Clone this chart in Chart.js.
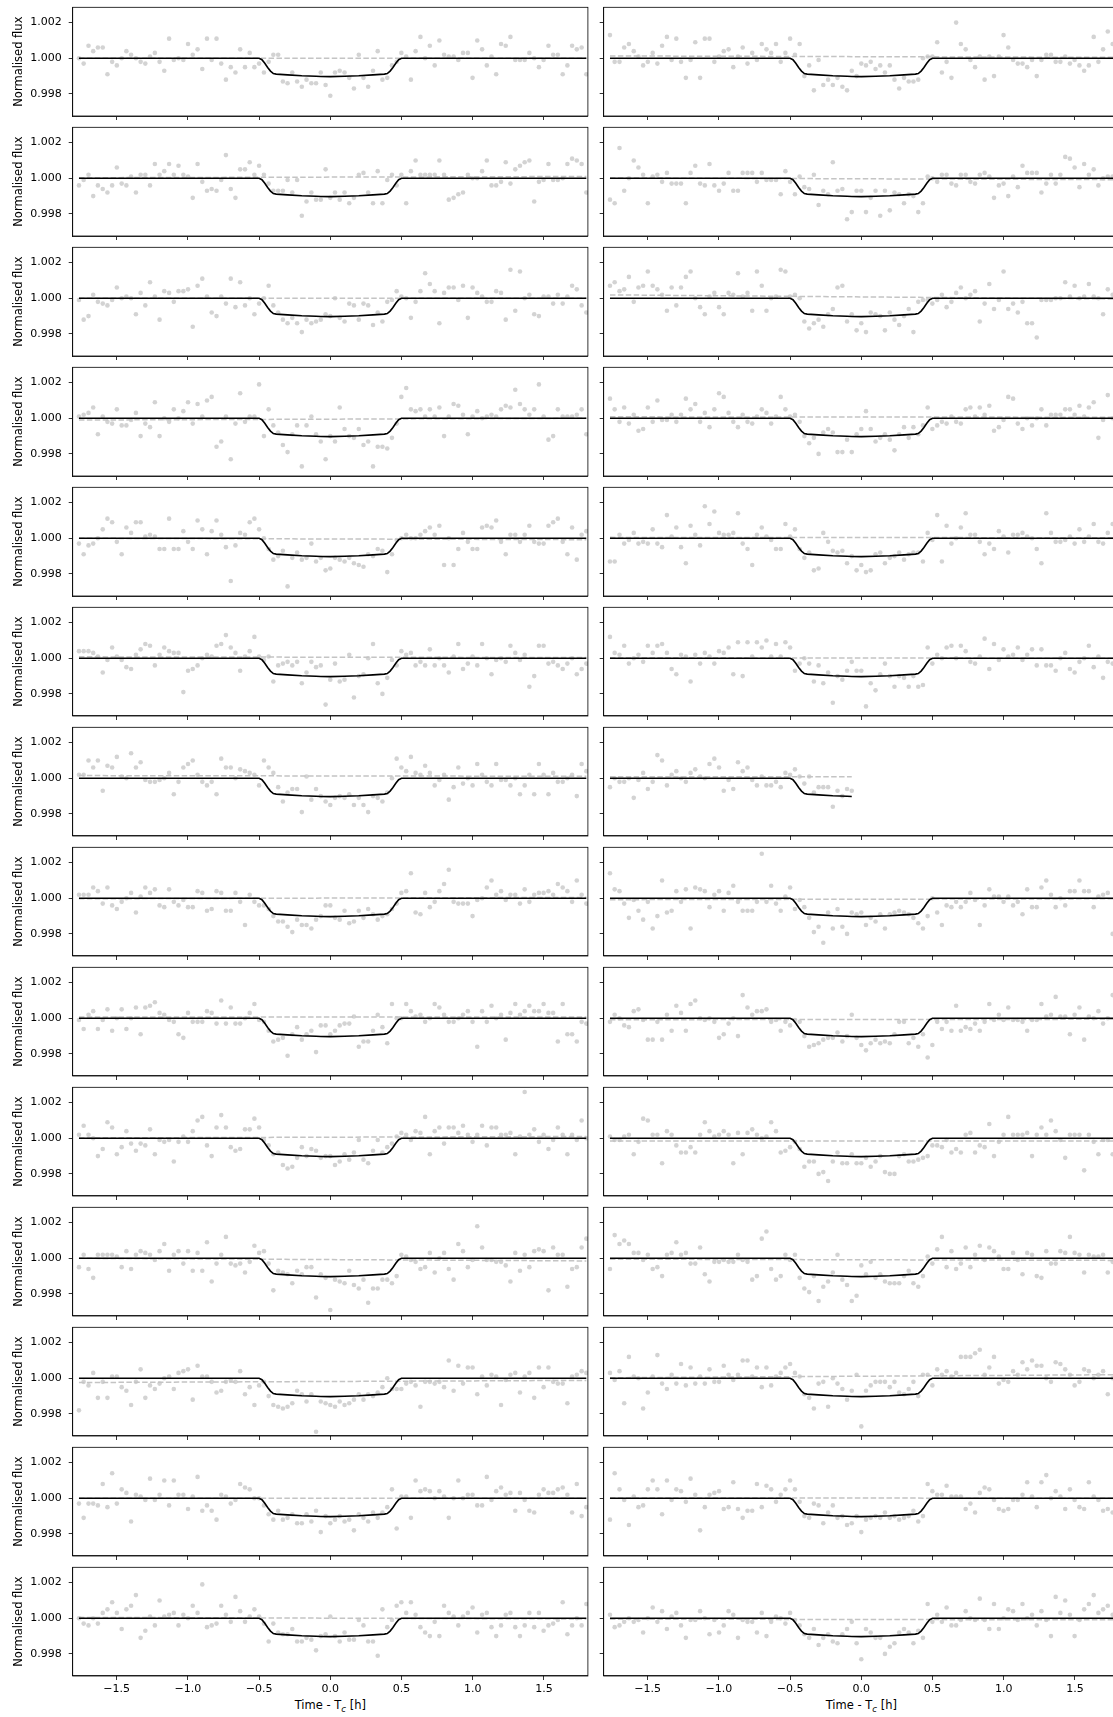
<!DOCTYPE html>
<html>
<head>
<meta charset="utf-8">
<title>Transit light curves</title>
<script src="https://cdn.jsdelivr.net/npm/chart.js@4.4.1/dist/chart.umd.min.js"></script>
<style>
html,body{margin:0;padding:0;background:#fff;overflow:hidden;}
body{position:relative;width:1113px;height:1717px;}
canvas{position:absolute;}
.xlabel{position:absolute;font-family:"DejaVu Sans";font-size:11.5px;line-height:13px;color:#000;white-space:nowrap;transform:translateX(-50%);}
.xlabel sub{font-size:8.5px;vertical-align:-3px;line-height:0;}
</style>
</head>
<body>
<div class="xlabel" id="xl0">Time - T<sub><i>c</i></sub> [h]</div>
<div class="xlabel" id="xl1">Time - T<sub><i>c</i></sub> [h]</div>
<script>
// Time grid (hours from mid-transit), 2-min cadence
const TIMES = [-1.765,-1.732,-1.698,-1.665,-1.632,-1.598,-1.565,-1.532,-1.499,-1.465,
-1.432,-1.399,-1.365,-1.332,-1.299,-1.266,-1.232,-1.199,-1.166,-1.132,
-1.099,-1.066,-1.032,-0.999,-0.966,-0.932,-0.899,-0.866,-0.833,-0.799,
-0.766,-0.733,-0.699,-0.666,-0.633,-0.599,-0.566,-0.533,-0.500,-0.466,
-0.433,-0.400,-0.366,-0.333,-0.300,-0.267,-0.233,-0.200,-0.167,-0.133,
-0.100,-0.067,-0.033,0.000,0.033,0.066,0.100,0.133,0.166,0.200,
0.233,0.266,0.300,0.333,0.366,0.400,0.433,0.466,0.499,0.533,
0.566,0.599,0.633,0.666,0.699,0.733,0.766,0.799,0.832,0.866,
0.899,0.932,0.966,0.999,1.032,1.066,1.099,1.132,1.165,1.199,
1.232,1.265,1.299,1.332,1.365,1.398,1.432,1.465,1.498,1.532,
1.565,1.598,1.632,1.665,1.698,1.731,1.765,1.798];

// Transit model curve (black line)
const MODEL_T = [-1.765,-0.5,-0.48,-0.46,-0.44,-0.42,-0.40,-0.38,-0.3,-0.2,-0.1,-0.067,0,0.1,0.2,0.3,0.38,0.40,0.42,0.44,0.46,0.48,0.5,1.798];
const MODEL_F = [1,1,0.99992,0.99972,0.99948,0.99928,0.99914,0.99911,0.99907,0.99902,0.99899,0.99898,0.99897,0.99899,0.99902,0.99907,0.99911,0.99914,0.99928,0.99948,0.99972,0.99992,1,1];

const X_TICKS = [-1.5,-1.0,-0.5,0.0,0.5,1.0,1.5];
const Y_TICKS = [0.998,1.000,1.002];
const Y_TITLE = 'Normalised flux';

// Flux points per panel, as deviation from 1 in units of 1e-4
const F00L = [0,-3,7,4,6,6,-9,-2,-4,0, 4,2,0,-2,-3,1,3,-2,-7,11, -1,0,-1,8,2,5,-6,11,-1,11, -3,-12,-5,-8,5,-5,3,-5,-3,-8, -2,2,2,-13,-14,-8,-13,-16,-12,-14, -14,-8,-15,-21,-8,-7,-8,-11,-17,2, -11,-16,-7,4,-12,-11,-4,-2,3,1, -12,4,12,0,7,-4,10,2,1,1, -1,3,3,-11,10,5,-4,1,-9,8, 7,12,-1,-1,-1,3,0,-5,-1,7, 2,2,-9,-4,7,5,6,-9];
const F00R = [13,-2,-2,6,8,4,1,-4,-2,3, -3,7,12,-1,11,-2,-11,-1,9,-11, 11,11,-2,1,4,5,-5,1,6,-3, 3,-1,8,5,3,8,-2,3,11,2, 8,-10,-4,-18,-1,-15,-12,-15,-11,-16, -18,-7,-10,-3,-4,-2,-6,-4,-8,-4, -12,-17,-11,-13,-13,-12,0,1,1,9, -8,-2,-11,20,8,5,-1,-5,1,-12, 1,-10,1,13,6,-1,-3,-3,-5,-1, -10,-1,2,2,-2,-2,1,-3,-1,-4, -7,-4,12,-2,5,15,8,3];
const F01L = [-4,-1,2,-10,-4,-6,-8,-4,6,-3, -4,1,-8,2,2,-4,8,2,4,8, 2,7,2,1,-11,8,-2,-7,-6,-7, -1,13,-6,-11,5,5,9,2,7,2, -3,-7,-7,-7,-1,-8,-1,-21,-13,-8, -12,-12,5,-11,-8,-12,-8,-14,-11,2, 3,-8,-14,4,-14,-1,2,-4,2,-14, 4,10,2,2,2,2,10,2,-12,-11, -9,-8,2,0,0,4,10,-4,-4,-2, 9,-3,5,7,9,10,-13,-2,-1,8, -1,-1,0,8,11,10,8,-8];
const F01R = [-12,-14,17,-7,0,10,6,2,-14,1, 2,-2,3,-3,-3,-3,-14,3,7,-3, -4,8,-4,-7,-3,3,-7,-7,3,3, 3,-2,3,-1,-1,-1,-9,4,-2,-9, 1,-5,-6,2,-15,-7,-9,9,-7,-6, -23,-19,-7,-7,-19,-11,-7,-21,-7,-18, -8,-9,-14,-9,-10,-19,-14,1,0,-2, 2,2,-3,-4,2,2,-2,-3,2,3, 1,-11,-4,-3,-10,1,-5,7,3,3, 3,-8,-3,2,-3,2,12,11,6,-5, 8,2,5,-4,0,1,1,2];
const F02L = [-1,-12,-10,2,-2,-3,-4,-1,6,0, 1,0,-9,3,-4,9,1,-12,4,3, -2,4,4,5,-16,7,11,1,-8,-10, 1,-3,11,-5,9,-4,0,-9,-3,0, 7,-4,-8,-12,-14,-11,-14,-19,-12,-14, -13,-12,-9,-10,0,-11,-13,-3,-4,-12, -3,-4,-15,-8,-13,-2,-1,4,1,0, -11,-2,4,14,8,4,-14,3,6,6, -1,7,-11,6,3,1,-2,-2,4,3, -12,16,-7,15,0,2,-9,-10,1,1, -3,2,-3,1,7,5,-4,-8];
const F02R = [7,9,4,5,12,-2,6,7,15,7, 5,2,-7,6,-4,6,12,15,0,-5, -9,1,3,-5,-9,3,2,14,1,3, -7,15,7,-7,0,1,16,15,1,2, 0,-13,-17,-14,-12,-16,-9,-6,6,7, -13,-9,-18,-14,-19,-8,-9,-10,-18,-8, -12,-15,-10,-6,-19,-2,-1,-1,-3,-1, 2,-5,-2,3,6,0,2,4,-13,-3, 8,-6,-1,15,-6,-3,-8,-2,-14,-14, -22,-1,-1,-1,0,0,9,1,7,0, 1,8,1,0,-9,5,2,3];
const F03L = [1,2,3,6,-9,1,-2,-3,5,-4, -4,-1,3,-10,-3,-5,9,-10,0,-2, 5,0,4,9,-3,8,1,10,12,-16, -13,1,-23,-3,14,-2,1,1,19,-10, 5,-4,-8,-15,-19,-9,-4,-27,-4,1, -9,-13,-23,-10,-13,6,-6,-10,-11,-6, -15,-13,-27,-16,-16,-17,-11,-3,12,17, 5,4,5,1,5,1,6,-10,1,8, 7,2,-9,1,4,0,1,2,1,5, 7,6,16,8,5,2,5,19,1,-12, -10,5,1,1,1,2,5,-9];
const F03R = [11,5,-2,6,-3,2,-7,-6,6,-2, 10,-1,-1,2,-2,2,11,5,8,-2, 3,-5,5,14,12,3,-2,-5,2,-2, -3,1,5,3,-3,1,12,5,1,2, -2,-10,-14,-11,-20,-8,-6,-8,-19,-19, -12,-19,-9,-6,4,-6,-13,-11,-9,-12, -18,-9,-5,-11,-5,-9,-4,6,-6,-4, -2,-3,1,-2,-3,5,6,1,6,2, 7,-7,-5,-1,12,11,-3,-6,0,-4, 0,5,-4,2,2,2,5,5,2,7, 1,6,9,-11,-1,13,0,2];
const F04L = [-3,-9,-4,-3,0,5,11,9,-2,-9, 6,3,9,9,1,2,1,-6,-6,11, -6,-6,4,-2,-6,10,5,-9,4,10, 2,-5,-24,-4,3,2,9,11,5,0, -6,-12,-10,-7,-27,-11,-8,-12,-11,-3, -13,-11,-18,-17,-11,-12,-13,-11,-14,-15, -16,-9,-10,-6,-7,-19,-9,-1,0,2, 0,0,2,4,6,2,7,-15,0,-15, -6,3,-2,-6,-6,6,7,6,10,-2, -9,2,2,-2,2,7,-2,-3,-3,7, 9,11,-2,-9,6,-12,2,4];
const F04R = [-13,-13,2,-3,-1,3,-3,-2,-3,5, -3,-5,13,1,6,-5,-14,7,2,-4, 18,8,15,3,2,2,3,14,-3,-6, -15,2,6,1,-1,-6,-6,8,1,5, -6,-11,-8,-18,-17,3,-2,-7,-8,-7, -14,-10,-18,-15,-19,-18,-9,-8,-14,-11, -10,-8,-12,-9,-8,-8,-13,3,-1,13, -13,7,-3,0,6,14,2,2,-2,-9, -3,-6,4,1,-8,2,2,3,1,0, -6,-14,14,3,-2,-2,-1,1,-3,5, -2,1,8,-2,-3,3,8,2];
const F05L = [4,4,4,3,1,-8,-1,6,1,-1, -5,-6,2,5,8,7,-4,2,6,4, 3,3,-19,-7,-6,-4,0,2,1,7, 8,13,6,3,-7,1,4,12,1,-1, 1,-13,-4,-3,-2,-4,-2,-14,-8,-2, -5,-4,-26,-12,-3,-13,-12,2,-22,-10, -9,0,8,-14,-20,-11,-1,-4,4,2, 3,-4,-2,-4,5,-4,0,-4,-8,1, 8,-6,-3,1,-4,8,0,-9,-1,0, -2,7,3,-1,2,-16,-10,7,7,-3, -2,-4,-6,-3,0,-9,-6,-3];
const F05R = [12,3,2,7,-3,0,2,-2,7,3, 7,8,3,-6,-9,2,1,-13,2,-3, 3,1,-3,4,3,6,-9,9,-10,9, 1,9,6,10,1,8,1,9,6,-7, -3,0,-3,-13,-4,-14,-8,-25,-10,-12, -7,-2,-7,-7,-27,-14,-18,-9,-3,-10, -16,-10,-11,-16,-10,-16,-15,6,-3,2, 0,6,7,0,7,4,-2,-3,1,11, -6,8,-1,5,1,2,6,-1,2,5, -4,5,-4,-4,-7,0,3,-6,-8,-2, 0,7,-5,1,-11,-2,-3,0];
const F06L = [2,2,10,6,10,-7,7,6,12,1, 0,14,6,9,-1,-2,-2,-1,0,3, -9,-2,6,8,10,2,-2,-4,-2,-9, 11,6,6,0,5,4,3,2,-4,10, 6,3,-5,-13,-8,-6,-6,-19,1,-12, -6,-10,-13,-15,-11,-10,-11,-9,-15,-11, -15,-19,-10,-11,-13,-8,0,11,6,4, 12,3,2,7,3,-4,-1,2,-12,-5, 6,-3,0,-4,8,2,-2,-4,8,-1, -1,-4,0,-9,-4,2,-9,8,2,-9, 3,-2,-2,0,2,-10,8,4];
const F06R = [-5,0,-2,-2,0,-11,-1,3,-6,-2, 13,10,-4,2,4,0,-2,3,5,1, 0,8,11,6,-7,-1,-6,9,4,6, -1,-4,1,-4,-4,-2,-5,3,2,5, 1,-3,1,-8,-5,-5,-5,-16,-7,-10, -6,-7];
const F07L = [2,2,2,6,4,-3,6,-4,-6,-2, 0,3,-8,1,6,3,5,-4,-5,5, -2,-4,-1,-5,-5,4,3,-7,-6,4, 3,-7,-7,3,-2,-15,2,-2,-4,-4, -6,-10,-13,-13,-16,-19,-12,-15,-15,-17, -12,-10,-4,-4,-11,-12,-7,-14,-13,-7, -11,-6,-9,-12,-10,-9,-6,-3,3,4, 14,-8,-9,3,-5,-2,4,8,16,-2, -3,-3,-3,-10,-1,0,6,10,2,4, -1,2,2,-3,5,-2,2,3,3,4, 2,8,6,4,-2,10,2,-3];
const F07R = [14,5,4,-3,-11,-1,-7,-12,-2,-17, -10,10,-8,-7,4,-2,5,-17,6,5, 4,-5,2,4,-7,3,7,-2,-7,-7, -7,-2,25,-2,7,-3,-7,1,6,-6, -1,-5,-11,-19,-16,-25,-8,-17,-6,-16, -20,-8,-9,-8,-15,-11,-13,-9,-17,-9, -8,-7,-8,-9,-11,-14,-17,-10,0,-8, -15,-4,-5,-2,-5,-2,3,-1,-15,-4, 5,1,1,-2,1,-4,-2,-9,5,-5, -5,6,10,2,-5,0,-4,4,4,10, 4,4,-5,1,2,3,-20,2];
const F08L = [-1,-6,2,4,-6,-1,5,-7,0,5, -6,0,6,-9,6,7,9,3,2,-1, -2,-9,-11,3,-2,-2,-2,4,3,-3, 10,-3,6,-3,-3,0,3,8,-1,-2, -7,-13,-12,-11,-21,-9,-5,-12,-9,-7, -19,-4,-4,-9,-7,-4,-3,-3,1,-16, -13,-13,-7,2,-5,-14,8,0,0,8, 4,1,2,-2,0,8,6,2,-2,-2, 0,2,4,-2,-16,4,-2,7,0,2, -12,3,8,2,4,7,4,4,8,3, 3,-13,8,-9,-9,-13,-2,-3];
const F08R = [-2,2,0,-4,-5,4,5,-1,-12,-12, -2,-12,2,-7,7,3,-7,8,10,0, -1,0,-2,-11,-9,-3,0,-10,13,6, 2,4,4,5,-2,-1,-7,-2,-4,-1, -2,-10,-16,-15,-14,-12,-11,-11,-8,-13, -10,2,-11,-15,-18,-14,-12,-14,-13,-14, -9,-2,-2,-14,-11,-16,-9,-22,-15,-2, -6,-2,-7,7,-7,-5,-6,-3,-7,-2, 8,-1,2,-1,6,-1,-1,-2,-7,-1, -1,8,1,2,12,1,1,-9,2,6, -12,1,0,4,-3,0,13,-3];
const F09L = [2,7,2,0,-10,-6,9,6,-9,-5, 4,-3,-7,-3,-4,5,-9,-1,-2,-1, -13,-2,1,-2,4,10,12,-4,-10,6, 13,6,-5,-7,-6,5,5,11,6,-1, -4,-9,-8,-15,-17,-16,-11,-5,-10,-6, -7,-11,-10,-10,-15,-13,-9,-12,-8,-1, -12,-14,-7,-1,-8,-5,-3,1,3,2, -1,4,3,12,-9,4,6,-3,6,6, 3,7,2,-2,2,7,-4,6,6,2, 2,3,-9,1,26,2,5,-2,2,-6, -1,6,2,-9,2,-1,10,0];
const F09R = [1,-1,-1,1,2,-9,-2,11,10,2, 2,-14,4,2,-4,-8,-8,-5,-8,2, 9,4,1,2,4,2,-14,3,-9,3, 5,2,0,1,9,4,-8,-7,-5,-2, -6,-16,-13,-13,-20,-19,-24,-13,-8,-14, -14,-9,-14,-14,-11,-16,-13,-10,-19,-20, -20,-10,-9,-13,-13,-12,-11,-10,-4,-4, -5,-1,-8,-6,-8,2,3,-8,-4,-5, 8,-10,-2,2,12,2,2,2,3,-10, 2,6,2,10,4,-1,-11,2,2,2, -18,2,-2,-9,-1,-1,-9,3];
const F10L = [-5,2,-6,-11,2,2,2,2,1,-5, 4,-6,2,4,3,2,-1,4,8,-7, 2,4,-3,4,-7,3,-7,9,-13,-3, 2,12,-3,-4,-3,-8,-2,7,3,4, -3,-18,-7,-8,-9,-14,-7,-9,-5,-5, -22,-9,-11,-29,-12,-13,-14,-7,-15,-17, -12,-25,-17,-17,-12,-12,-14,-10,2,1, -1,-2,-6,-5,3,-8,0,3,-6,-12, 8,4,-5,-1,18,6,-1,-1,-2,-2, -4,-13,3,-7,2,-5,4,5,4,-18, 6,2,2,-16,-6,-5,6,11];
const F10R = [-6,13,8,10,8,3,3,-1,2,-6, -5,-10,2,3,9,2,3,-3,-3,6, -9,-13,-2,-2,-1,-2,-2,2,-1,-2, -12,-10,11,15,-6,-12,-10,2,-1,2, -11,-17,-19,-10,-24,-16,-13,-8,2,-12, -15,-24,-21,-4,-9,-2,-11,-9,-13,-14, -14,-14,-10,-7,-14,-16,-10,1,-3,5, 12,-5,4,-6,-3,6,-5,2,7,-1, 6,4,1,-6,-6,3,-1,-9,3,2, -10,-11,4,-3,-3,4,3,12,3,2, -8,2,1,1,2,-8,-2,3];
const F11L = [-18,-2,-4,3,-11,-2,-11,1,1,-5, -7,-15,-2,5,-11,-4,-6,-3,0,1, -6,3,4,5,-12,7,1,1,-2,-8, -7,-2,-1,-2,4,-9,-5,-15,-4,-2, -10,-15,-16,-17,-16,-14,-7,-9,-13,-9, -30,-13,-14,-15,-16,-13,-15,-14,-12,-9, -12,-9,-10,-8,-5,0,-6,-6,-6,-3, -2,-4,-16,-2,-2,-3,-2,-5,10,-7, 7,-3,6,6,-9,1,-4,2,1,-15, -1,2,3,-8,1,3,-11,6,-5,6, -2,-3,-3,-14,1,2,4,3];
const F11R = [3,-1,4,-14,12,1,0,-17,-8,1, 13,-3,-6,2,-3,8,-4,6,-3,1, -3,5,-2,-2,7,2,-1,2,10,10, 1,6,-5,6,-4,1,3,6,8,3, 1,-9,-11,-17,-3,-2,-16,0,-3,-6, -12,-7,2,-27,-7,-4,-2,-2,-2,-5, -2,-8,-9,-6,-2,-10,2,2,-4,5, 2,4,1,3,12,12,12,14,16,2, 6,12,-3,-1,-2,4,2,9,5,10, 7,7,0,-2,9,8,5,2,-4,-2, 5,4,0,2,4,-9,0,2];
const F12L = [-3,-11,-3,-3,-4,8,-5,14,-3,5, 3,-13,2,1,-1,11,-1,2,10,-4, 10,2,2,-6,1,12,-7,-4,-7,-12, 2,1,-3,-1,8,6,5,0,0,-4, -9,-12,-7,-12,-11,-9,-14,-14,-9,-13, -7,-19,-10,-14,-12,-10,-13,-12,-18,-9, -11,-13,-8,-11,-8,-5,5,-17,1,1, -11,10,4,5,4,0,4,1,-11,0, 10,0,2,2,-4,-4,12,-1,4,6, 2,3,-7,3,-1,-7,-8,2,5,3, 3,5,6,2,-8,8,-10,-5];
const F12R = [-12,14,5,-1,-15,1,-5,-4,5,10, 5,-9,10,-1,5,4,-2,11,2,-18, -5,2,3,4,-6,-5,9,-6,-11,-7, -7,8,-5,7,5,-2,2,5,10,5, -2,-10,-11,-3,-4,-14,-8,-4,-11,-10, -15,-14,-10,-19,-12,-11,-10,-11,-8,-11, -10,-12,-11,-10,-7,-13,-10,8,4,2, 2,7,1,1,1,-6,-3,-8,3,6, 5,-1,-6,-7,-6,-1,-1,2,9,1, -5,9,13,0,4,1,-6,5,-1,-5, -6,9,1,-1,-7,-6,-8,2];
const F13L = [0,-3,-4,0,-3,3,5,9,3,-6, 5,7,13,-11,-7,1,-4,10,1,2, 3,-4,2,0,7,3,19,-5,-4,-3, 7,2,-2,12,4,-2,1,5,1,-3, -13,-3,-8,-9,-9,-6,-13,-13,-11,-12, -18,-10,-9,1,-10,-13,-8,-12,-12,-1, -4,-13,-13,-21,5,-5,-1,7,9,3, 9,2,-5,-8,-10,-2,-10,7,3,1, -4,1,3,6,-8,2,3,-5,-10,-4, 2,3,-5,-10,-4,3,-5,3,-7,-4, -3,-1,9,-9,-4,0,-4,8];
const F13R = [2,-5,-4,-2,0,-2,-1,-8,0,6, -2,4,-6,1,3,-4,-11,-1,-1,4, 0,-9,-1,-8,-4,4,2,-11,-1,-2, -2,-8,3,-10,-2,1,0,-3,3,-1, -4,-9,-11,-6,-15,-11,-9,-13,-14,-9, -6,-2,-14,-23,-6,-8,-11,-11,-20,-16, -14,-8,-6,-8,-14,-7,-11,8,-2,2, -2,6,-4,-4,-1,4,0,-1,11,-1, -6,8,-6,0,5,4,-1,8,0,2, -4,4,-1,-10,12,3,10,2,-10,-1, 5,8,13,3,5,7,2,6];

// Baseline trend (dashed line): [start, end] deviation in units of 1e-4
const TREND_L = [[0,0],[0.3,1.0],[0,0],[-1,0],[0,-0.8],[0.8,0.4],[1.5,1.1],[-0.3,0.5],[0.7,0.7],[0.2,1.0],[0,-1.5],[-2.4,-1.2],[0,0],[0.5,-0.4]];
const TREND_R = [[1.3,0.5],[0.2,-0.8],[1.9,-0.4],[0.8,0.6],[0.5,0.3],[0.3,0],[0.9,0.9],[-0.8,-0.3],[-0.8,-0.6],[-1.6,-1.6],[-0.5,-1.2],[0.3,2.0],[0.2,0],[-0.5,-0.9]];

const LEFT_PANELS = [F00L,F01L,F02L,F03L,F04L,F05L,F06L,F07L,F08L,F09L,F10L,F11L,F12L,F13L];
const RIGHT_PANELS = [F00R,F01R,F02R,F03R,F04R,F05R,F06R,F07R,F08R,F09R,F10R,F11R,F12R,F13R];

// ---- layout ----
const FONT = {family:'DejaVu Sans', size:11};
const TITLE_FONT = {family:'DejaVu Sans', size:11.5};
const ROW_TOP0 = 7.3, ROW_PITCH = 120, PLOT_H = 108.7;
const COLS = [
  {x0:72.7, x1:587.9, cLeft:0, cW:596},
  {x0:603.7, x1:1118.9, cLeft:596, cW:527}
];
const X_MIN = -1.809, X_MAX = 1.809, Y_MIN = 0.99676, Y_MAX = 1.00286;

const framePlugin = {
  id:'frame',
  afterDraw(chart){
    const {ctx, chartArea:a} = chart;
    ctx.save();
    ctx.strokeStyle = '#000';
    ctx.lineWidth = 0.8;
    ctx.strokeRect(a.left, a.top, a.right - a.left, a.bottom - a.top);
    ctx.restore();
  }
};

function fmtX(v){
  if (Math.abs(v) < 1e-9) return '0.0';
  return (v < 0 ? '\u2212' : '') + Math.abs(v).toFixed(1);
}

function panel(r, c, devs, trend){
  const col = COLS[c], isLeft = c === 0, isBottom = r === 13;
  const top = ROW_TOP0 + r * ROW_PITCH;
  const cTop = Math.floor(top) - 15;
  const padTop = top - cTop;
  const extra = isBottom ? 30 : 15;
  const cH = Math.ceil(padTop + PLOT_H + extra);
  const xH = cH - padTop - PLOT_H;
  const yW = col.x0 - col.cLeft;
  const padRight = col.cW - (col.x1 - col.cLeft);
  const cv = document.createElement('canvas');
  cv.width = col.cW; cv.height = cH;
  cv.style.left = col.cLeft + 'px'; cv.style.top = cTop + 'px';
  cv.style.width = col.cW + 'px'; cv.style.height = cH + 'px';
  document.body.appendChild(cv);

  const n = devs.length;
  const t = TIMES.slice(0, n);
  const tEnd = t[n - 1];
  const pts = devs.map((v, i) => ({x: t[i], y: 1 + v * 1e-4}));
  const model = MODEL_T.map((x, i) => ({x, y: MODEL_F[i]})).filter(p => p.x <= tEnd + 0.05);
  const trendPts = [{x: t[0], y: 1 + trend[0] * 1e-4}, {x: tEnd, y: 1 + trend[1] * 1e-4}];

  const gridOpts = {drawOnChartArea:false, drawTicks:true, tickLength:4, color:'#000', lineWidth:0.8};
  new Chart(cv, {
    type:'scatter',
    data:{datasets:[
      {data:model, showLine:true, borderColor:'#000', borderWidth:1.6, pointRadius:0, order:0},
      {data:trendPts, showLine:true, borderColor:'#c4c4c4', borderWidth:1.5, borderDash:[5.5,2.4], pointRadius:0, order:1},
      {data:pts, showLine:false, pointRadius:2.3, pointBackgroundColor:'#d3d3d3', pointBorderWidth:0, order:2}
    ]},
    options:{
      responsive:false, animation:false, devicePixelRatio:1, events:[],
      layout:{padding:{top:padTop, right:padRight, bottom:0, left:0}},
      plugins:{legend:{display:false}, tooltip:{enabled:false}},
      scales:{
        x:{type:'linear', position:'bottom', min:X_MIN, max:X_MAX,
          afterBuildTicks:s => { s.ticks = X_TICKS.map(v => ({value:v})); },
          afterFit:s => { s.height = xH; },
          grid:gridOpts, border:{display:true, color:'#000', width:0.8},
          ticks:{display:isBottom, font:FONT, color:'#000', padding:3, maxRotation:0, autoSkip:false, callback:v => fmtX(v)}},
        y:{type:'linear', position:'left', min:Y_MIN, max:Y_MAX,
          afterBuildTicks:s => { s.ticks = Y_TICKS.map(v => ({value:v})); },
          afterFit:s => { s.width = yW; },
          grid:gridOpts, border:{display:true, color:'#000', width:0.8},
          ticks:{display:isLeft, font:FONT, color:'#000', padding:7, callback:v => Number(v).toFixed(3)},
          title:{display:isLeft, text:Y_TITLE, font:TITLE_FONT, color:'#000', padding:{top:12, bottom:0}}}
      }
    },
    plugins:[framePlugin]
  });
}

LEFT_PANELS.forEach((d, r) => panel(r, 0, d, TREND_L[r]));
RIGHT_PANELS.forEach((d, r) => panel(r, 1, d, TREND_R[r]));

// x-axis labels under bottom row
const lblTop = ROW_TOP0 + 13 * ROW_PITCH + PLOT_H + 22.5;
[0,1].forEach(c => {
  const el = document.getElementById('xl' + c);
  el.style.left = ((COLS[c].x0 + COLS[c].x1) / 2) + 'px';
  el.style.top = lblTop + 'px';
});
</script>
</body>
</html>
